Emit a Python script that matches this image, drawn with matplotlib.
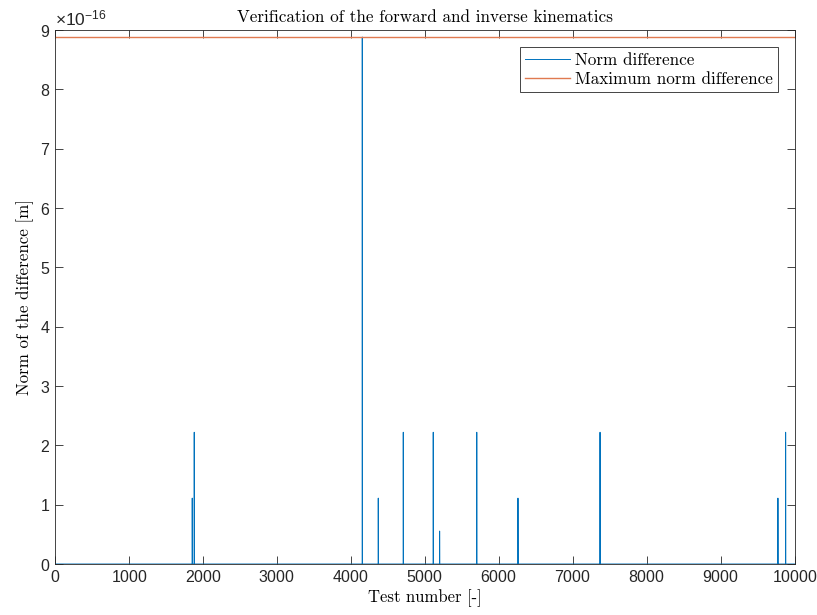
import numpy as np
import matplotlib
matplotlib.use("Agg")
import matplotlib.pyplot as plt

# test numbers where the norm difference is not zero, and the values there
spike_tests = [1855, 1882, 4153, 4369, 4707, 5112, 5198, 5699, 5700, 6257, 7365, 7366, 9770, 9874]
spike_values = [1.1102e-16, 2.2204e-16, 8.8818e-16, 1.1102e-16, 2.2204e-16, 2.2204e-16,
                5.5511e-17, 2.2204e-16, 2.2204e-16, 1.1102e-16, 2.2204e-16, 2.2204e-16,
                1.1102e-16, 2.2204e-16]
n_tests = 10000

tests = np.arange(1, n_tests + 1)
norm_diff = np.zeros(n_tests)
norm_diff[np.array(spike_tests) - 1] = spike_values
max_diff = norm_diff.max()

plt.rcParams['mathtext.fontset'] = 'custom'
plt.rcParams['mathtext.rm'] = 'Liberation Sans'
plt.rcParams['mathtext.it'] = 'Liberation Sans'
plt.rcParams['font.family'] = ['Liberation Sans', 'DejaVu Sans']
plt.rcParams['axes.formatter.use_mathtext'] = True
plt.rcParams['axes.unicode_minus'] = False

serif = 'cmr10'
axcol = '#262626'

fig = plt.figure(figsize=(8.17, 6.15), dpi=100)
ax = fig.add_axes([0.0673, 0.0829, 0.9057, 0.8683])

ax.plot(tests, norm_diff, color='#0072BD', lw=0.7, label='Norm difference')
ax.axhline(max_diff, color='#E07A50', lw=1.0, label='Maximum norm difference')

ax.set_xlim(0, 10000)
ax.set_ylim(0, 9e-16)
ax.set_xticks(np.arange(0, 10001, 1000))
ax.set_yticks(np.arange(0, 9.01e-16, 1e-16))
ax.tick_params(direction='in', top=True, right=True, length=6, width=0.6,
               colors=axcol, labelsize=11.5)
ax.yaxis.get_offset_text().set_fontsize(12.5)
for s in ax.spines.values():
    s.set_linewidth(0.6)
    s.set_color(axcol)

ax.set_title('Verification of the forward and inverse kinematics',
             fontfamily=serif, fontsize=12.3, pad=6)
ax.set_xlabel('Test number [-]', fontfamily=serif, fontsize=12, labelpad=3)
ax.set_ylabel('Norm of the difference [m]', fontfamily=serif, fontsize=12.2, labelpad=4)

leg = ax.legend(loc='upper right', prop={'family': serif, 'size': 12.3},
                fancybox=False, framealpha=1, edgecolor=axcol,
                borderaxespad=1.0, handlelength=2.6, handletextpad=0.3,
                borderpad=0.3, labelspacing=0.25)
leg.get_frame().set_linewidth(0.6)

fig.savefig('out.png', dpi=100)
